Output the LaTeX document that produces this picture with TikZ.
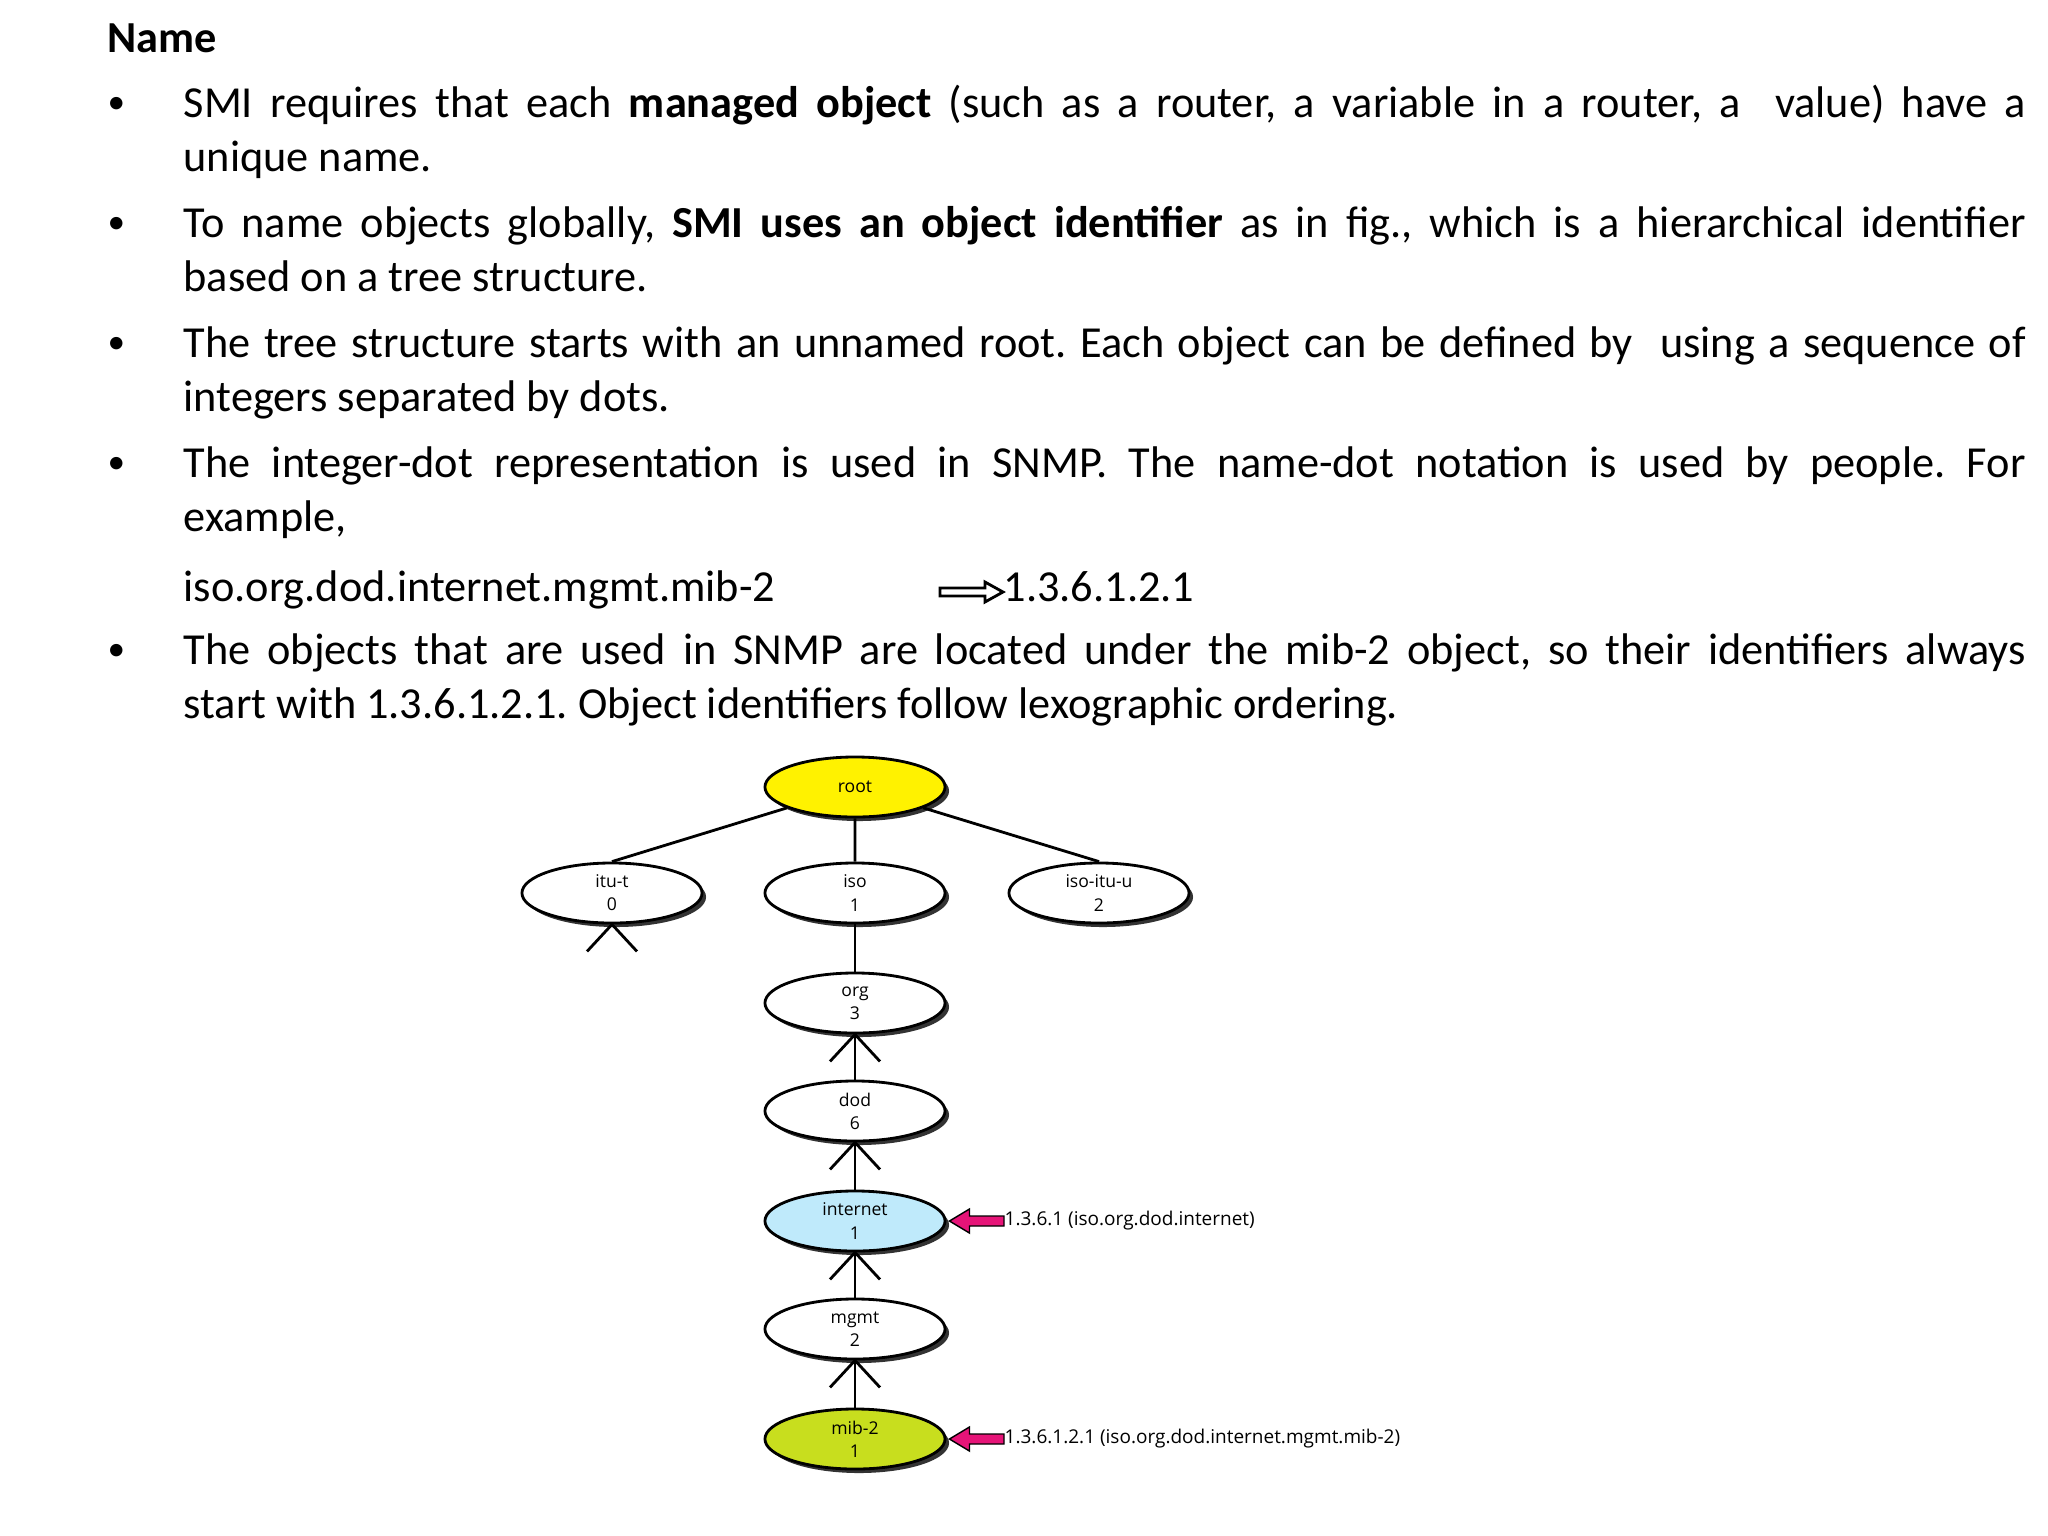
\documentclass[tikz,border=0pt]{standalone}
\usepackage{fontspec}
\setmainfont{Carlito}
\newfontfamily\figfont{Open Sans}
\usetikzlibrary{shapes.geometric,shadows,arrows.meta}
\definecolor{mibc}{RGB}{200,222,30}
\definecolor{pinkc}{RGB}{230,20,120}
\begin{document}
\frenchspacing
\begin{tikzpicture}[x=0.01cm,y=-0.01cm,
  txt/.style={anchor=base west,inner sep=0pt,font=\fontsize{12.6}{15.6}\selectfont},
  para/.style={txt,text width=18.41cm,align=justify},
  bul/.style={anchor=base west,inner sep=0pt,font=\fontsize{10}{12}\selectfont},
  oid/.style={ellipse,draw,thick,minimum width=1.8cm,minimum height=0.6cm,inner sep=0pt,
     align=center,font=\figfont\fontsize{5}{6.6}\selectfont,
     drop shadow={shadow xshift=0.04cm,shadow yshift=-0.04cm,fill=black!80,opacity=1}},
  lbl/.style={anchor=west,inner sep=0pt,font=\figfont\fontsize{5.4}{6}\selectfont}]
\useasboundingbox (0,0) rectangle (2048,1536);
\node[txt,font=\bfseries\fontsize{12.6}{15.6}\selectfont] (title) at (107,52) {Name};
\foreach \y in {113,233,353,473,660}{\node[bul] at (107,\y) {•};}
\node[para] (p1) at (183,117) {SMI requires that each \textbf{managed object} (such as a router, a variable in a router, a~~value) have a\linebreak unique name.};
\node[para] (p2) at (183,237) {To name objects globally, \textbf{SMI uses an object identifier} as in fig., which is a hierarchical identifier\linebreak based on a tree structure.};
\node[para] (p3) at (183,357) {The tree structure starts with an unnamed root. Each object can be defined by~ using a sequence of\linebreak integers separated by dots.};
\node[para] (p4) at (183,477) {The integer-dot representation is used in SNMP. The name-dot notation is used by people. For\linebreak example,};
\node[txt] (ex) at (183,601) {iso.org.dod.internet.mgmt.mib-2};
\node[txt] (num) at (1003,601) {1.3.6.1.2.1};
\coordinate (ea) at (940,592);
\draw[thick,line join=miter] (ea) ++(0,-4) -- ++(45,0) -- ++(0,-6) -- (num.west |- ea) -- (985,602) -- ++(0,-6) -- (940,596) -- cycle;
\node[para] (p5) at (183,664) {The objects that are used in SNMP are located under the mib-2 object, so their identifiers always\linebreak start with 1.3.6.1.2.1. Object identifiers follow lexographic ordering.};
% tree
\node[oid,fill=yellow] (root) at (855,787) {root};
\node[oid,fill=white] (itut) at (612,893) {itu-t\\0};
\node[oid,fill=white] (iso) at (855,893) {iso\\1};
\node[oid,fill=white] (isoitu) at (1099,893) {iso-itu-u\\2};
\node[oid,fill=white] (org) at (855,1003) {org\\3};
\node[oid,fill=white] (dod) at (855,1111) {dod\\6};
\node[oid,fill=cyan!25!white] (inet) at (855,1221) {internet\\1};
\node[oid,fill=white] (mgmt) at (855,1329) {mgmt\\2};
\node[oid,fill=mibc] (mib) at (855,1439) {mib-2\\1};
\draw[thick] (root) -- (itut.north) (root) -- (iso) (root) -- (isoitu.north);
\draw[thick] (iso) -- (org) (org) -- (dod) (dod) -- (inet) (inet) -- (mgmt) (mgmt) -- (mib);
\foreach \n in {itut,org,dod,inet,mgmt}{
  \draw[thick] (\n.south) -- ++(-25,27) (\n.south) -- ++(25,27);}
\node[lbl] (l1) at (1004,1221) {1.3.6.1 (iso.org.dod.internet)};
\node[lbl] (l2) at (1004,1439) {1.3.6.1.2.1 (iso.org.dod.internet.mgmt.mib-2)};
\foreach \n/\l in {inet/l1,mib/l2}{
  \path (\n.east) ++(3,0) coordinate (t);
  \filldraw[fill=pinkc,draw=black,thin]
    (t) -- ++(20,-12) -- ++(0,7) -- ([yshift=0.05cm]\l.west) -- ([yshift=-0.05cm]\l.west) -- ([xshift=0.2cm,yshift=-0.05cm]t) -- ++(0,7) -- cycle;
}
\end{tikzpicture}
\end{document}
